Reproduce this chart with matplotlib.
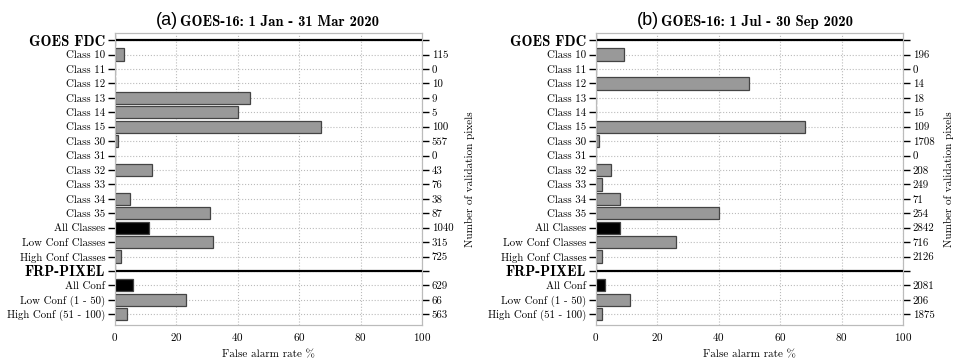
import matplotlib
matplotlib.use("Agg")
import matplotlib.pyplot as plt
import numpy as np

plt.rcParams['font.family'] = ['cmr10', 'DejaVu Serif']
plt.rcParams['axes.unicode_minus'] = False
plt.rcParams['axes.formatter.use_mathtext'] = True

fdc_rows = ["Class 10", "Class 11", "Class 12", "Class 13", "Class 14", "Class 15",
            "Class 30", "Class 31", "Class 32", "Class 33", "Class 34", "Class 35",
            "All Classes", "Low Conf Classes", "High Conf Classes"]
frp_rows = ["All Conf", "Low Conf (1 - 50)", "High Conf (51 - 100)"]
headers = ["GOES FDC", "FRP-PIXEL"]
black_rows = ["All Classes", "All Conf"]

# panel (a): 1 Jan - 31 Mar 2020
far_a_fdc = [3, 0, 0, 44, 40, 67, 1, 0, 12, 0, 5, 31, 11, 32, 2]
n_a_fdc = [115, 0, 10, 9, 5, 100, 557, 0, 43, 76, 38, 87, 1040, 315, 725]
far_a_frp = [6, 23, 4]
n_a_frp = [629, 66, 563]

# panel (b): 1 Jul - 30 Sep 2020
far_b_fdc = [9, 0, 50, 0, 0, 68, 1, 0, 5, 2, 8, 40, 8, 26, 2]
n_b_fdc = [196, 0, 14, 18, 15, 109, 1708, 0, 208, 249, 71, 254, 2842, 716, 2126]
far_b_frp = [3, 11, 2]
n_b_frp = [2081, 206, 1875]

panels = [
    ("(a)", "GOES-16: 1 Jan - 31 Mar 2020", far_a_fdc, n_a_fdc, far_a_frp, n_a_frp),
    ("(b)", "GOES-16: 1 Jul - 30 Sep 2020", far_b_fdc, n_b_fdc, far_b_frp, n_b_frp),
]

fig = plt.figure(figsize=(9.55, 3.61), dpi=100)
lefts = [0.1204, 0.624]
ylab_x = [1.14, 1.135]

for left, lx, (tag, title, far_fdc, n_fdc, far_frp, n_frp) in zip(lefts, ylab_x, panels):
    ax = fig.add_axes([left, 0.0997, 0.3215, 0.809])

    labels = [headers[0]] + fdc_rows + [headers[1]] + frp_rows
    values = [np.nan] + far_fdc + [np.nan] + far_frp
    counts = [""] + [str(c) for c in n_fdc] + [""] + [str(c) for c in n_frp]
    y = np.arange(len(labels))

    colors = ["black" if lab in black_rows else "#999999" for lab in labels]
    vals = np.nan_to_num(np.array(values, dtype=float))
    ax.barh(y, vals, height=0.85, color=colors, edgecolor="#444444", linewidth=0.9, zorder=3)

    for i, lab in enumerate(labels):
        if lab in headers:
            ax.axhline(i, color="black", lw=1.6, zorder=4)

    ax.set_xlim(0, 100)
    ax.set_ylim(len(labels) - 0.25, -0.5)
    ax.set_xticks([0, 20, 40, 60, 80, 100])
    ax.set_yticks(y)
    ax.set_yticklabels(labels, fontsize=7.8)
    for t in ax.get_yticklabels():
        if t.get_text() in headers:
            t.set_fontfamily("cmb10")
            t.set_fontsize(10.5)
    ax.tick_params(axis="x", labelsize=8, length=0, pad=4)
    ax.tick_params(axis="y", length=5, width=1.0, color="black", pad=2)
    ax.grid(True, linestyle=":", color="#bbbbbb", lw=0.8, zorder=0)
    for s in ax.spines.values():
        s.set_color("#bbbbbb")
    ax.set_xlabel("False alarm rate %", fontsize=8, labelpad=5)

    ax2 = ax.twinx()
    ax2.set_ylim(ax.get_ylim())
    ax2.set_yticks(y)
    ax2.set_yticklabels(counts, fontsize=7.8)
    ax2.tick_params(axis="y", length=5, width=1.0, color="black", pad=2)
    for s in ax2.spines.values():
        s.set_color("#bbbbbb")
    ax2.set_ylabel("Number of validation pixels", fontsize=8)
    ax2.yaxis.set_label_coords(lx, 0.5)

    ax.text(0.205, 1.015, tag, transform=ax.transAxes, ha="right", va="bottom",
            fontsize=13, family="Liberation Sans")
    ax.text(0.212, 1.015, title, transform=ax.transAxes, ha="left", va="bottom",
            fontsize=10.5, family="cmb10")

fig.savefig("out.png", dpi=100)
